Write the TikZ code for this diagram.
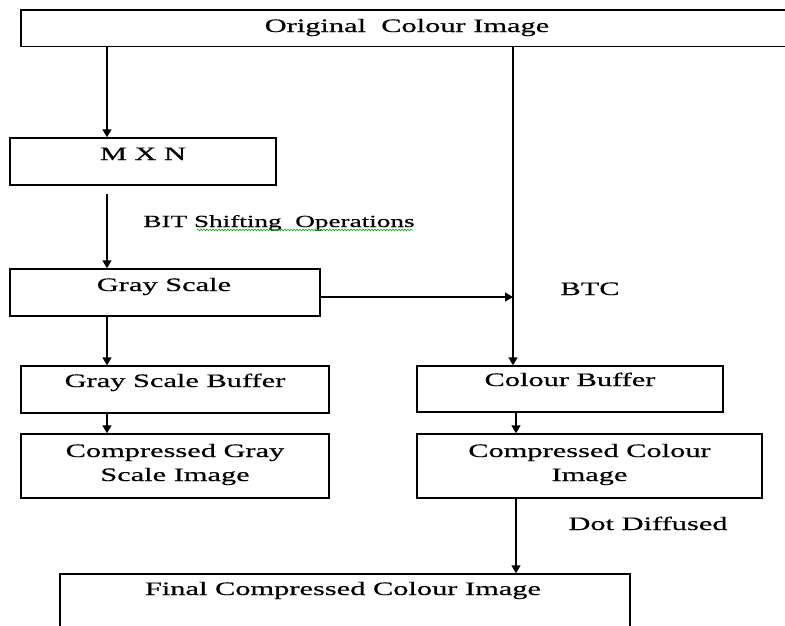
\documentclass[tikz,border=0pt]{standalone}
\usepackage{fontspec}
\setmainfont{Liberation Serif}[FakeStretch=1.6,FakeBold=0.5]
\usetikzlibrary{arrows.meta,decorations.pathmorphing}
\begin{document}
\begin{tikzpicture}[x=1pt,y=-1pt,
  box/.style={draw, line width=1.4pt, inner sep=0pt, fill=none},
  arr/.style={line width=1.4pt, -{Triangle[length=8pt,width=9pt]}},
  lbl/.style={inner sep=0pt, anchor=base, font=\fontsize{19}{22}\selectfont},
  small/.style={inner sep=0pt, anchor=base, font=\fontsize{17}{20}\selectfont}]
\clip (0,0) rectangle (785,625);
\fill[white] (0,0) rectangle (785,625);
% boxes
\node[box, minimum width=779pt, minimum height=36.5pt] (top) at (410.5,28.25) {};
\node[box, minimum width=266pt, minimum height=47pt] (mxn) at (143,161.5) {};
\node[box, minimum width=310pt, minimum height=47pt] (gray) at (165,292.5) {};
\node[box, minimum width=308pt, minimum height=47pt] (gbuf) at (175,389.5) {};
\node[box, minimum width=306pt, minimum height=46pt] (cbuf) at (570,389) {};
\node[box, minimum width=308pt, minimum height=64pt] (cgray) at (175,466) {};
\node[box, minimum width=345pt, minimum height=64pt] (ccol) at (589.5,466) {};
\node[box, minimum width=570pt, minimum height=86pt] (final) at (345,617) {};
% texts
\node[lbl] (ttop) at (407,32) {Original~ Colour Image};
\node[lbl] (tmxn) at (143,160) {M X N};
\node[lbl] (tgray) at (164,291) {Gray Scale};
\node[lbl] (tgbuf) at (175,387) {Gray Scale Buffer};
\node[lbl] (tcbuf) at (570,386) {Colour Buffer};
\node[lbl] (tcg1) at (175,457) {Compressed Gray};
\node[lbl] (tcg2) at (175,481) {Scale Image};
\node[lbl] (tcc1) at (589.5,457) {Compressed Colour};
\node[lbl] (tcc2) at (589.5,481) {Image};
\node[lbl] (tfin) at (343,595) {Final Compressed Colour Image};
\node[small] (tbit) at (279,227) {BIT Shifting~ Operations};
\node[lbl] (tbtc) at (590,295) {BTC};
\node[lbl] (tdot) at (648,530) {Dot Diffused};
\draw[green!60!black, line width=0.5pt, decorate, decoration={snake, amplitude=0.9pt, segment length=3pt}] (197,230) -- (413,230);
% connectors
\coordinate (xl) at (107,0);
\coordinate (xr) at (513,0);
\coordinate (xr2) at (516,0);
\coordinate (gE) at ([yshift=-4.5pt]gray.east);
\draw[arr] (top.south -| xl) -- (mxn.north -| xl);
\draw[arr, shorten <=8pt] (mxn.south -| xl) -- (gray.north -| xl);
\draw[arr] (gray.south -| xl) -- (gbuf.north -| xl);
\draw[arr] (gbuf.south -| xl) -- (cgray.north -| xl);
\draw[arr] (top.south -| xr) -- (cbuf.north -| xr);
\draw[arr] (gE) -- (gE -| xr);
\draw[arr] (cbuf.south -| xr2) -- (ccol.north -| xr2);
\draw[arr] (ccol.south -| xr2) -- (final.north -| xr2);
\end{tikzpicture}
\end{document}
